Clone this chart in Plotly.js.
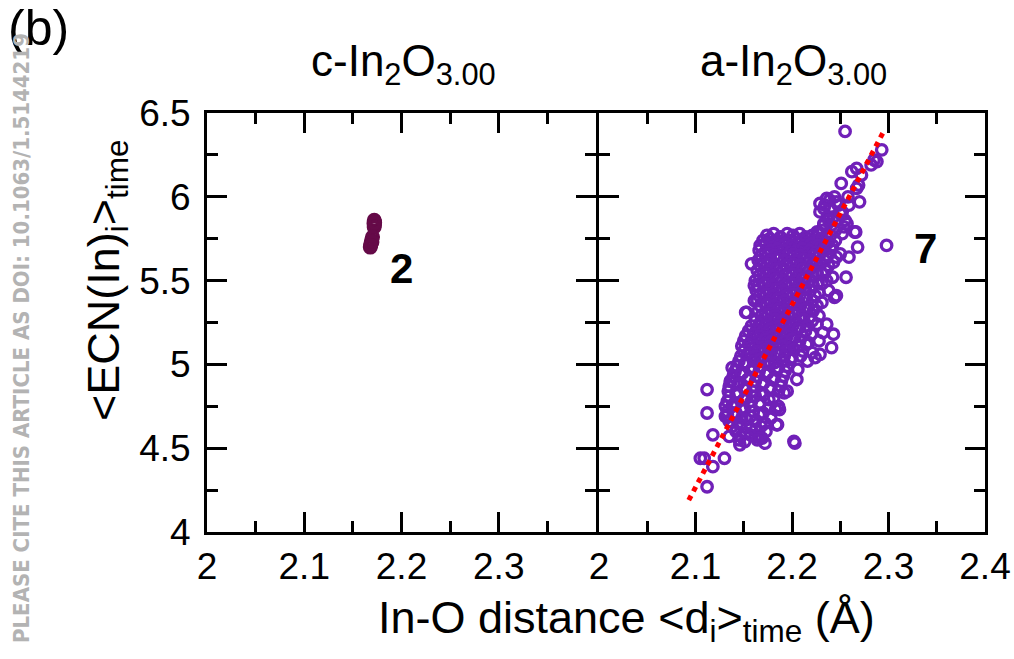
<!DOCTYPE html>
<html>
<head>
<meta charset="utf-8">
<script src="https://cdn.plot.ly/plotly-3.0.1.min.js"></script>
<style>html,body{margin:0;padding:0;background:#fff;}#chart{width:1014px;height:659px;}</style>
</head>
<body>
<div id="chart"></div>
<script>
// ---- Data ----
// c-In2O3.00 panel
const cX = [2.1720, 2.1723, 2.1717, 2.1721, 2.1719, 2.1724, 2.1702, 2.1692, 2.1686, 2.1679, 2.1696, 2.1683];
const cY = [5.86, 5.85, 5.84, 5.83, 5.82, 5.845, 5.76, 5.74, 5.72, 5.70, 5.73, 5.71];

// a-In2O3.00 panel
const aX = [
 // outer / isolated circles
 2.255, 2.293, 2.285, 2.288, 2.282, 2.267, 2.262, 2.272, 2.251, 2.269, 2.267,
 2.244, 2.258, 2.236, 2.239, 2.270, 2.229, 2.259, 2.248, 2.240, 2.233, 2.229, 2.252,
 2.243, 2.237, 2.255, 2.246, 2.233, 2.241, 2.254, 2.265, 2.226, 2.266, 2.252,
 2.268, 2.298, 2.259, 2.256, 2.246, 2.244, 2.158, 2.161, 2.161, 2.152, 2.236,
 2.243, 2.241, 2.224, 2.229, 2.138, 2.205, 2.112, 2.112, 2.118, 2.109, 2.105,
 2.118, 2.130, 2.112, 2.202, 2.203, 2.146, 2.145, 2.172, 2.162, 2.169, 2.185,
 2.187, 2.133, 2.135, 2.138, 2.140, 2.136, 2.195, 2.192, 2.153, 2.233,
 2.234, 2.246, 2.250, 2.238, 2.245, 2.232, 2.257, 2.240,
 // dense body
 2.174, 2.181, 2.188, 2.195, 2.201, 2.208, 2.214, 2.221, 2.228, 2.236,
 2.170, 2.177, 2.184, 2.190, 2.197, 2.204, 2.210, 2.217, 2.224, 2.231, 2.238, 2.245,
 2.167, 2.173, 2.180, 2.187, 2.193, 2.200, 2.207, 2.213, 2.220, 2.227, 2.234, 2.242,
 2.166, 2.172, 2.178, 2.185, 2.191, 2.198, 2.205, 2.211, 2.218, 2.225, 2.232, 2.240, 2.250,
 2.168, 2.175, 2.182, 2.188, 2.195, 2.202, 2.208, 2.215, 2.222, 2.229, 2.237, 2.246,
 2.165, 2.171, 2.178, 2.185, 2.192, 2.198, 2.205, 2.212, 2.219, 2.226, 2.234, 2.243,
 2.167, 2.174, 2.181, 2.188, 2.194, 2.201, 2.208, 2.215, 2.222, 2.230, 2.238,
 2.164, 2.170, 2.177, 2.184, 2.191, 2.197, 2.204, 2.211, 2.218, 2.226, 2.235,
 2.166, 2.173, 2.180, 2.187, 2.194, 2.200, 2.207, 2.214, 2.222, 2.231, 2.242,
 2.162, 2.169, 2.176, 2.183, 2.190, 2.197, 2.204, 2.211, 2.218, 2.227, 2.236,
 2.165, 2.172, 2.179, 2.186, 2.193, 2.200, 2.207, 2.214, 2.222, 2.231,
 2.163, 2.170, 2.177, 2.184, 2.191, 2.198, 2.205, 2.212, 2.219, 2.228, 2.238,
 2.166, 2.173, 2.180, 2.187, 2.194, 2.201, 2.208, 2.215, 2.224,
 2.164, 2.171, 2.178, 2.185, 2.192, 2.199, 2.206, 2.213, 2.221, 2.231,
 2.167, 2.174, 2.181, 2.188, 2.195, 2.202, 2.209, 2.217, 2.226,
 2.165, 2.172, 2.179, 2.186, 2.193, 2.200, 2.207, 2.214, 2.222,
 2.168, 2.175, 2.182, 2.189, 2.196, 2.203, 2.210, 2.218, 2.228,
 2.162, 2.169, 2.176, 2.183, 2.190, 2.197, 2.204, 2.212, 2.221,
 2.158, 2.166, 2.173, 2.180, 2.187, 2.194, 2.201, 2.208, 2.216, 2.226,
 2.155, 2.162, 2.170, 2.177, 2.184, 2.191, 2.198, 2.206, 2.214, 2.232,
 2.152, 2.160, 2.167, 2.174, 2.181, 2.188, 2.195, 2.203, 2.211, 2.220,
 2.150, 2.157, 2.165, 2.172, 2.179, 2.186, 2.193, 2.200, 2.208, 2.217, 2.228,
 2.148, 2.155, 2.162, 2.169, 2.177, 2.184, 2.191, 2.198, 2.206, 2.215,
 2.150, 2.157, 2.165, 2.172, 2.179, 2.187, 2.194, 2.202, 2.211, 2.221,
 2.147, 2.154, 2.162, 2.169, 2.177, 2.184, 2.192, 2.200, 2.209,
 2.145, 2.152, 2.160, 2.167, 2.175, 2.182, 2.190, 2.198, 2.216,
 // lower, looser part
 2.143, 2.151, 2.160, 2.168, 2.177, 2.186, 2.195, 2.206,
 2.141, 2.149, 2.158, 2.166, 2.175, 2.184, 2.193,
 2.139, 2.147, 2.156, 2.164, 2.173, 2.182, 2.191,
 2.137, 2.145, 2.154, 2.162, 2.171, 2.180, 2.189,
 2.135, 2.144, 2.152, 2.161, 2.169, 2.178, 2.188,
 2.134, 2.142, 2.151, 2.159, 2.168, 2.177, 2.186,
 2.135, 2.144, 2.153, 2.162, 2.171, 2.181,
 2.133, 2.141, 2.150, 2.158, 2.167, 2.176,
 2.131, 2.139, 2.148, 2.157, 2.166, 2.176, 2.186,
 2.133, 2.142, 2.151, 2.160, 2.170, 2.183,
 2.131, 2.139, 2.148, 2.157, 2.166, 2.178,
 2.135, 2.144, 2.153, 2.162, 2.172,
 2.138, 2.147, 2.157, 2.168, 2.184,
 2.142, 2.152, 2.162, 2.173,
 2.147, 2.157, 2.167,
 2.151, 2.164
];
const aY = [
 // outer / isolated circles
 6.39, 6.28, 6.22, 6.21, 6.19, 6.17, 6.15, 6.13, 6.08, 6.07, 6.05,
 6.00, 6.00, 5.99, 5.98, 5.97, 5.96, 5.95, 5.95, 5.93, 5.93, 5.91, 5.91,
 5.88, 5.88, 5.86, 5.86, 5.83, 5.83, 5.82, 5.79, 5.79, 5.79, 5.78,
 5.70, 5.71, 5.64, 5.52, 5.41, 5.40, 5.60, 5.47, 5.38, 5.31, 5.24,
 5.18, 5.10, 5.04, 5.06, 4.98, 4.91, 4.85, 4.71, 4.58, 4.44, 4.44,
 4.39, 4.44, 4.27, 4.54, 4.53, 4.52, 4.55, 4.53, 4.57, 4.56, 4.64,
 4.73, 4.70, 4.57, 4.75, 4.89, 4.90, 4.84, 4.83, 5.31, 5.84,
 5.95, 5.97, 5.90, 5.86, 5.80, 5.80, 5.84, 5.77,
 // dense body
 5.77, 5.78, 5.76, 5.78, 5.77, 5.78, 5.76, 5.77, 5.78, 5.76,
 5.74, 5.75, 5.74, 5.73, 5.74, 5.75, 5.74, 5.73, 5.74, 5.75, 5.73, 5.74,
 5.71, 5.72, 5.70, 5.71, 5.72, 5.71, 5.70, 5.71, 5.72, 5.71, 5.70, 5.71,
 5.68, 5.67, 5.68, 5.69, 5.68, 5.67, 5.68, 5.69, 5.68, 5.67, 5.68, 5.69, 5.66,
 5.65, 5.66, 5.65, 5.64, 5.65, 5.66, 5.65, 5.64, 5.65, 5.66, 5.65, 5.64,
 5.62, 5.61, 5.62, 5.63, 5.62, 5.61, 5.62, 5.63, 5.62, 5.61, 5.62, 5.61,
 5.59, 5.60, 5.59, 5.58, 5.59, 5.60, 5.59, 5.58, 5.59, 5.60, 5.59,
 5.56, 5.55, 5.56, 5.57, 5.56, 5.55, 5.56, 5.57, 5.56, 5.55, 5.56,
 5.53, 5.54, 5.53, 5.52, 5.53, 5.54, 5.53, 5.52, 5.53, 5.54, 5.52,
 5.50, 5.49, 5.50, 5.51, 5.50, 5.49, 5.50, 5.51, 5.50, 5.49, 5.50,
 5.47, 5.48, 5.47, 5.46, 5.47, 5.48, 5.47, 5.46, 5.47, 5.48,
 5.44, 5.43, 5.44, 5.45, 5.44, 5.43, 5.44, 5.45, 5.44, 5.43, 5.44,
 5.41, 5.42, 5.41, 5.40, 5.41, 5.42, 5.41, 5.40, 5.41,
 5.38, 5.37, 5.38, 5.39, 5.38, 5.37, 5.38, 5.39, 5.38, 5.37,
 5.35, 5.36, 5.35, 5.34, 5.35, 5.36, 5.35, 5.34, 5.35,
 5.32, 5.31, 5.32, 5.33, 5.32, 5.31, 5.32, 5.33, 5.32,
 5.29, 5.30, 5.29, 5.28, 5.29, 5.30, 5.29, 5.28, 5.29,
 5.26, 5.25, 5.26, 5.27, 5.26, 5.25, 5.26, 5.27, 5.26,
 5.23, 5.24, 5.23, 5.22, 5.23, 5.24, 5.23, 5.22, 5.23, 5.24,
 5.20, 5.19, 5.20, 5.21, 5.20, 5.19, 5.20, 5.21, 5.20, 5.19,
 5.17, 5.18, 5.17, 5.16, 5.17, 5.18, 5.17, 5.16, 5.17, 5.18,
 5.14, 5.13, 5.14, 5.15, 5.14, 5.13, 5.14, 5.15, 5.14, 5.13, 5.14,
 5.11, 5.12, 5.11, 5.10, 5.11, 5.12, 5.11, 5.10, 5.11, 5.12,
 5.08, 5.07, 5.08, 5.09, 5.08, 5.07, 5.08, 5.09, 5.08, 5.07,
 5.05, 5.06, 5.05, 5.04, 5.05, 5.06, 5.05, 5.04, 5.05,
 5.02, 5.01, 5.02, 5.03, 5.02, 5.01, 5.02, 5.03, 5.02,
 // lower, looser part
 4.99, 5.00, 4.98, 4.99, 5.00, 4.98, 4.99, 4.97,
 4.96, 4.95, 4.97, 4.96, 4.95, 4.97, 4.96,
 4.93, 4.94, 4.92, 4.93, 4.94, 4.92, 4.93,
 4.90, 4.89, 4.91, 4.90, 4.89, 4.91, 4.90,
 4.87, 4.88, 4.86, 4.87, 4.88, 4.86, 4.87,
 4.84, 4.83, 4.85, 4.84, 4.83, 4.85, 4.84,
 4.81, 4.82, 4.80, 4.81, 4.82, 4.80,
 4.78, 4.77, 4.79, 4.78, 4.77, 4.79,
 4.75, 4.76, 4.74, 4.75, 4.76, 4.74, 4.75,
 4.72, 4.71, 4.73, 4.72, 4.71, 4.73,
 4.69, 4.70, 4.68, 4.69, 4.70, 4.68,
 4.66, 4.65, 4.67, 4.66, 4.65,
 4.63, 4.64, 4.62, 4.63, 4.64,
 4.60, 4.59, 4.61, 4.60,
 4.57, 4.58, 4.56,
 4.54, 4.55
];

// Linear fit line endpoints (a-In2O3.00)
const fitX = [2.093, 2.295];
const fitY = [4.19, 6.39];

// Axis ticks
const xTickVals = [2.0, 2.1, 2.2, 2.3, 2.4];
const xTickTextLeft = ['2', '2.1', '2.2', '2.3', ''];
const xTickTextRight = ['2', '2.1', '2.2', '2.3', '2.4'];
const yTickVals = [4, 4.5, 5, 5.5, 6, 6.5];
const yTickText = ['4', '4.5', '5', '5.5', '6', '6.5'];

// Text labels
const panelTitles = ['c-In<sub>2</sub>O<sub>3.00</sub>', 'a-In<sub>2</sub>O<sub>3.00</sub>'];
const panelCounts = ['2', '7'];
const yTitle = '&lt;ECN(In)<sub>i</sub>&gt;<sub>time</sub>';
const xTitle = 'In-O distance &lt;d<sub>i</sub>&gt;<sub>time</sub> (Å)';
const panelLabel = '(b)';
const watermark = 'PLEASE CITE THIS ARTICLE AS DOI: 10.1063/1.5144219';

// ---- Layout helpers (pixel -> paper) ----
const W = 1014, H = 659;
const M = {l: 207, r: 29, t: 113, b: 127};
const PW = W - M.l - M.r, PH = H - M.t - M.b;
const px = v => (v - M.l) / PW;
const py = v => (H - M.b - v) / PH;

const FONT = 'Liberation Sans, Arial, Helvetica, sans-serif';
const purple = '#7020b8';
const maroon = '#650a48';

const traces = [
  {x: cX, y: cY, xaxis: 'x', yaxis: 'y', mode: 'markers', type: 'scatter',
   marker: {symbol: 'circle-open', size: 11, color: maroon, line: {width: 4, color: maroon}},
   hoverinfo: 'skip'},
  {x: aX, y: aY, xaxis: 'x2', yaxis: 'y2', mode: 'markers', type: 'scatter',
   marker: {symbol: 'circle-open', size: 10.5, color: purple, line: {width: 3.3, color: purple}},
   hoverinfo: 'skip'},
  {x: fitX, y: fitY, xaxis: 'x2', yaxis: 'y2', mode: 'lines', type: 'scatter',
   line: {color: '#ff0000', width: 5, dash: 'dot'}, hoverinfo: 'skip'}
];

function xAxis(domain, ticktext) {
  return {
    domain: domain, range: [2.0, 2.4], tickmode: 'array', tickvals: xTickVals, ticktext: ticktext,
    ticks: 'inside', ticklen: 20, tickwidth: 3, tickcolor: '#000',
    minor: {tickmode: 'linear', tick0: 2.0, dtick: 0.05, ticks: 'inside', ticklen: 11, tickwidth: 3, tickcolor: '#000', showgrid: false},
    showline: true, linewidth: 3, linecolor: '#000', mirror: 'allticks',
    showgrid: false, zeroline: false, fixedrange: true,
    tickfont: {family: FONT, size: 37, color: '#000'}
  };
}
function yAxis(anchor, showLabels) {
  return {
    anchor: anchor, domain: [0, 1], range: [4, 6.5], tickmode: 'array', tickvals: yTickVals, ticktext: yTickText,
    showticklabels: showLabels,
    ticks: 'inside', ticklen: 20, tickwidth: 3, tickcolor: '#000',
    minor: {tickmode: 'linear', tick0: 4, dtick: 0.25, ticks: 'inside', ticklen: 11, tickwidth: 3, tickcolor: '#000', showgrid: false},
    showline: true, linewidth: 3, linecolor: '#000', mirror: 'allticks',
    showgrid: false, zeroline: false, fixedrange: true,
    tickfont: {family: FONT, size: 37, color: '#000'}, ticklabelstandoff: 6
  };
}

const layout = {
  width: W, height: H, margin: M, showlegend: false,
  paper_bgcolor: '#fff', plot_bgcolor: '#fff',
  font: {family: FONT, color: '#000'},
  xaxis: Object.assign(xAxis([0, px(596)], xTickTextLeft), {anchor: 'y'}),
  xaxis2: Object.assign(xAxis([px(599), 1], xTickTextRight), {anchor: 'y2'}),
  yaxis: yAxis('x', true),
  yaxis2: yAxis('x2', false),
  annotations: [
    {text: panelTitles[0], xref: 'paper', yref: 'paper', x: px(403), y: py(64), xanchor: 'center', yanchor: 'middle', showarrow: false, font: {family: FONT, size: 44}},
    {text: panelTitles[1], xref: 'paper', yref: 'paper', x: px(793), y: py(64), xanchor: 'center', yanchor: 'middle', showarrow: false, font: {family: FONT, size: 44}},
    {text: '<b>' + panelCounts[0] + '</b>', xref: 'x', yref: 'y', x: 2.2, y: 5.575, showarrow: false, font: {family: FONT, size: 42}},
    {text: '<b>' + panelCounts[1] + '</b>', xref: 'x2', yref: 'y2', x: 2.338, y: 5.69, showarrow: false, font: {family: FONT, size: 42}},
    {text: yTitle, xref: 'paper', yref: 'paper', x: px(106), y: py(280), textangle: -90, xanchor: 'center', yanchor: 'middle', showarrow: false, font: {family: FONT, size: 45}},
    {text: xTitle, xref: 'paper', yref: 'paper', x: px(626), y: py(620), xanchor: 'center', yanchor: 'middle', showarrow: false, font: {family: FONT, size: 45}},
    {text: panelLabel, xref: 'paper', yref: 'paper', x: px(6), y: py(28), xanchor: 'left', yanchor: 'middle', showarrow: false, font: {family: FONT, size: 50}},
    {text: '<b>' + watermark + '</b>', xref: 'paper', yref: 'paper', x: px(21), y: py(338), textangle: -90, xanchor: 'center', yanchor: 'middle', showarrow: false, font: {family: 'Liberation Sans Narrow, DejaVu Sans Condensed, Arial Narrow, sans-serif', size: 22, color: '#b3b3b3'}}
  ]
};

Plotly.newPlot('chart', traces, layout, {staticPlot: true, displayModeBar: false});
</script>
</body>
</html>
